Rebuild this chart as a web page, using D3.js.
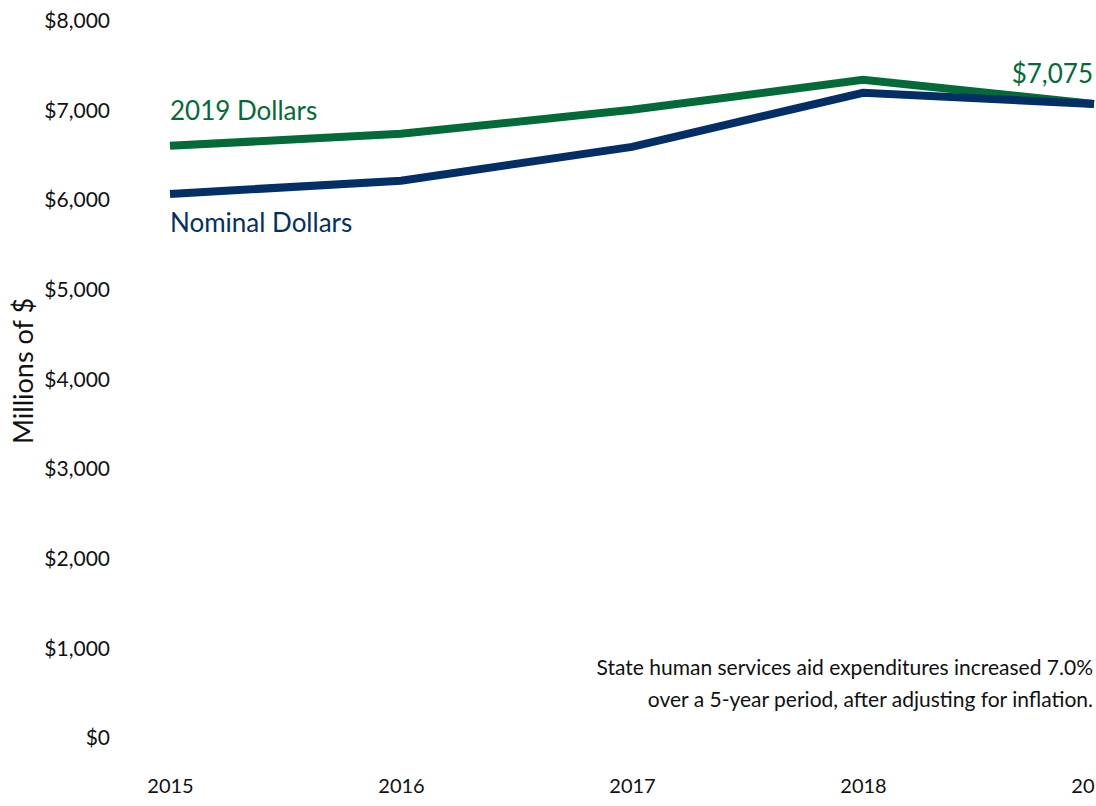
<!DOCTYPE html>
<html>
<head>
<meta charset="utf-8">
<script src="https://cdn.jsdelivr.net/npm/d3@7"></script>
<style>
  html, body { margin: 0; padding: 0; background: #fff; }
  svg { display: block; font-family: Lato, "Open Sans", sans-serif; }
</style>
</head>
<body>
<svg id="chart" width="1096" height="806"></svg>
<script>
// Fiscal years shown on the x axis
const years = [2015, 2016, 2017, 2018, 2019];
// State human services aid, millions of dollars
const realDollars = [6607, 6741, 7009, 7344, 7075];     // 2019 dollars
const nominalDollars = [6071, 6217, 6596, 7199, 7075];  // nominal dollars
// Y axis ticks
const yTicks = [0, 1000, 2000, 3000, 4000, 5000, 6000, 7000, 8000];

const green = "#046a38";
const navy = "#032f66";

const svg = d3.select("#chart");

const x = d3.scaleLinear().domain([2015, 2019]).range([170, 1094]);
const y = d3.scaleLinear().domain([0, 8000]).range([738, 21]);

// Y axis: labels only, no domain line or tick marks
const yAxis = d3.axisLeft(y)
  .tickValues(yTicks)
  .tickSize(0)
  .tickPadding(0)
  .tickFormat(d => "$" + d3.format(",")(d));
svg.append("g")
  .attr("transform", "translate(110,0)")
  .call(yAxis)
  .call(g => g.select(".domain").remove())
  .call(g => g.selectAll("text")
    .attr("fill", "#111")
    .style("font-size", "21px")
    .style("font-family", "Lato, 'Open Sans', sans-serif"));

// X axis: year labels along the bottom
const xAxis = d3.axisBottom(x)
  .tickValues(years)
  .tickSize(0)
  .tickPadding(0)
  .tickFormat(d3.format("d"));
svg.append("g")
  .attr("transform", "translate(0,779)")
  .call(xAxis)
  .call(g => g.select(".domain").remove())
  .call(g => g.selectAll("text")
    .attr("fill", "#111")
    .style("font-size", "20px")
    .style("font-family", "Lato, 'Open Sans', sans-serif"));

// Y axis title
svg.append("text")
  .attr("transform", "translate(33,371) rotate(-90)")
  .attr("text-anchor", "middle")
  .attr("fill", "#111")
  .style("font-size", "27px")
  .text("Millions of $");

const line = d3.line()
  .x((d, i) => x(years[i]))
  .y(d => y(d));

svg.append("path")
  .datum(realDollars)
  .attr("fill", "none")
  .attr("stroke", green)
  .attr("stroke-width", 8)
  .attr("stroke-linejoin", "miter")
  .attr("d", line);

svg.append("path")
  .datum(nominalDollars)
  .attr("fill", "none")
  .attr("stroke", navy)
  .attr("stroke-width", 8)
  .attr("stroke-linejoin", "miter")
  .attr("d", line);

// Series labels
svg.append("text")
  .attr("x", x(2015))
  .attr("y", 120)
  .attr("fill", green)
  .style("font-size", "26px")
  .text("2019 Dollars");

svg.append("text")
  .attr("x", x(2015))
  .attr("y", 232)
  .attr("fill", navy)
  .style("font-size", "26px")
  .text("Nominal Dollars");

// End value label
svg.append("text")
  .attr("x", 1093)
  .attr("y", 83)
  .attr("text-anchor", "end")
  .attr("fill", green)
  .style("font-size", "26px")
  .text("$" + d3.format(",")(realDollars[realDollars.length - 1]));

// Annotation
const note = svg.append("text")
  .attr("text-anchor", "end")
  .attr("fill", "#111")
  .style("font-size", "21px");
note.append("tspan").attr("x", 1093).attr("y", 675)
  .text("State human services aid expenditures increased 7.0%");
note.append("tspan").attr("x", 1093).attr("y", 707)
  .text("over a 5-year period, after adjusting for inflation.");
</script>
</body>
</html>
